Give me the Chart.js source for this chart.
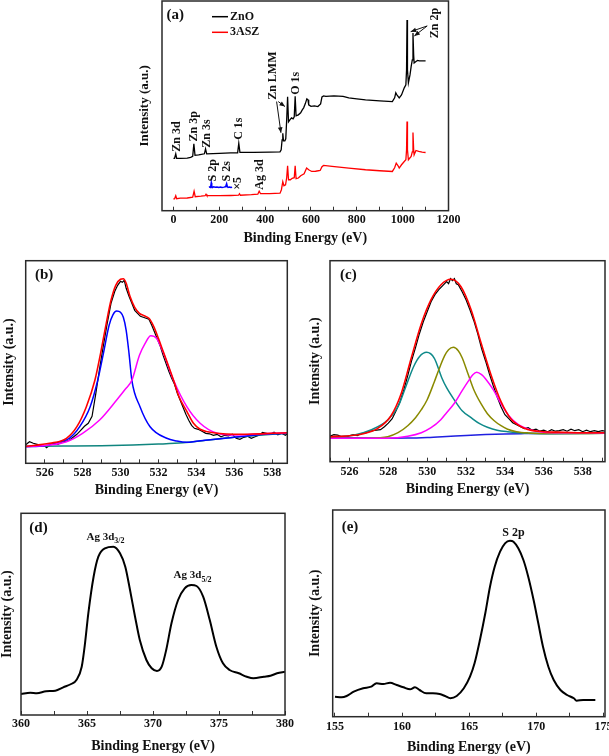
<!DOCTYPE html>
<html><head><meta charset="utf-8">
<script src="https://cdn.jsdelivr.net/npm/chart.js@4.4.1/dist/chart.umd.min.js"></script>
<style>
html,body{margin:0;padding:0;background:#fff;width:609px;height:756px;overflow:hidden;position:relative}
canvas{position:absolute}
</style></head><body>
<canvas id="ca" width="345" height="250" style="left:128px;top:0px"></canvas>
<canvas id="cb" width="300" height="250" style="left:0px;top:250px"></canvas>
<canvas id="cc" width="320" height="250" style="left:300px;top:250px"></canvas>
<canvas id="cd" width="305" height="256" style="left:0px;top:500px"></canvas>
<canvas id="ce" width="325" height="256" style="left:300px;top:500px"></canvas>
<script>
// ---------- Panel (a): survey spectra ----------
const aZnO_eV = [0,5,10,14,30,60,75,84,89,94,110,135,140,145,200,250,280,285,290,350,420,465,470,474,477,480,486,490,494,498,502,508,515,522,527,531,535,545,555,562,568,575,582,587,590,600,615,630,642,648,655,665,700,740,765,800,838,900,955,965,970,975,985,995,1007,1014,1017,1019,1021,1025,1032,1037,1042,1045,1048,1050,1058,1065,1073,1085,1100];
const aZnO_int = [52.5,52.5,57,52.5,52.5,52.7,53.5,54.5,67,55.5,56,57,62,57,57.5,58,58,67.5,58.5,58.5,58.7,59,61,71,77.5,70,70,72,91,114,89,91,93,92,94,114.5,95,96,98,101,103,107,112,111,106,104.5,105,104.3,107,114,115,114.5,115,114.5,113,112,111,110,109.3,113,118,116,113,116,123,126,141,191,141,128,136,144.3,151,178,156,148,149.5,150.5,150,150,150];
const aASZ_eV = [0,5,10,14,30,60,84,90,95,120,138,142,146,200,250,284,288,292,340,368,374,380,420,465,471,477,482,489,494,498,502,510,518,527,531,535,545,555,570,581,590,603,620,640,648,655,692,765,838,900,955,965,972,980,985,995,1007,1014,1017,1019,1021,1025,1037,1042,1045,1048,1050,1058,1070,1085,1100];
const aASZ_int = [11.5,12,15,12,12.5,12.7,13.5,19.5,14,14.5,15,16.5,15,15,15.2,15.5,17,15.5,16,16.5,19.5,17,17,17.5,21,29,25,26,33,45,31,31,32.5,33,45,32,32.7,35,37,42.7,41,39.3,39.5,40.3,44,45.3,44.3,42.7,41,40,39.3,43,47.7,45,42.7,46,49.3,51,61,89.3,61,51,54.3,59,78.3,61,56,60.3,59.5,58.7,58.3];
const aS_eV = [155,158,161,163,165,167,170,175,182,190,198,205,212,220,226,229,232,235,238,245,250,256];
const aS_int = [23.3,23.8,23.2,25,28,24.5,23.3,23.9,23.4,23.7,23.2,23.8,23.3,23.6,24,25,27,24.2,23.3,23.8,23.3,23.5];
const aTicks = [0,100,200,300,400,500,600,700,800,900,1000,1100,1200];
const aLabels = [0,200,400,600,800,1000,1200];
const aPeakNames = ['Zn 3d','Zn 3p','Zn 3s','C 1s','Zn LMM','O 1s','Zn 2p','S 2p','S 2s','\u00d75','Ag 3d'];
const aPeakX = [14,89.4,145,287,433,533,1141,174,232,283,377];
const aPeakY = [59,69.3,63,71,111,116,172.7,29.3,29.3,21,21];
const aArrows = [[450,109.3,469,78],[457,109.3,486.5,104.3],[1107,185,1035,179.3],[1107,185,1051,175]];
const aSeriesNames = ['ZnO','3ASZ'];

// ---------- Panel (b): O 1s of ZnO ----------
const bRaw_eV = [525.0,525.2,525.4,525.6,525.8,526.0,526.1,526.3,526.5,526.7,526.9,527.1,527.3,527.5,527.7,527.9,528.1,528.3,528.5,528.7,528.9,529.1,529.3,529.5,529.7,529.85,530.0,530.1,530.2,530.3,530.45,530.6,530.75,530.9,531.05,531.2,531.35,531.5,531.65,531.8,531.95,532.1,532.25,532.4,532.55,532.7,532.85,533.0,533.15,533.3,533.45,533.6,533.75,533.9,534.1,534.3,534.5,534.7,534.9,535.1,535.3,535.5,535.7,535.9,536.1,536.3,536.5,536.7,536.9,537.1,537.3,537.5,537.7,537.9,538.1,538.3,538.5,538.7,538.8];
const bRaw_int = [18.5,21.5,20,19,18,17.5,15.5,18.5,19.5,19,21,22,23,26,29,33,37,40,47,70,95,118,140,160,172,178,182,181,183,175,167,160,153,150,147,146,145,144,138,131,124,117,108,100,92,85,79,70,63,56,49,43,38,35,34,32,30,29.5,28,29,26.5,28,27.5,29,25,24,26,27,25,26.5,28,31,30,29,31,28.5,30,28,29.5];
const bFit_eV = [525,526.26,527.15,527.7,528.2,528.65,528.95,529.25,529.5,529.75,530.0,530.15,530.3,530.5,530.75,531,531.25,531.5,531.75,532,532.25,532.5,532.8,533.1,533.5,533.85,534.2,534.6,535.1,536,537,538,538.8];
const bFit_int = [17,20,25,36.6,56.6,83,110,140,163,178,184,184.5,180,167,156,150,147.5,145,137,125,112,99,83,66,52,40,34,31.5,30,29,29.3,30,30.5];
const bPk1_eV = [525,526,526.8,527.3,527.85,528.4,528.8,529.1,529.4,529.6,529.8,530.0,530.15,530.3,530.45,530.6,531.03,531.56,532.44,532.97,533.5,534,535,536,537,538,538.8];
const bPk1_int = [16.5,17.5,21.6,25,36.6,56.6,83,110,138,148.5,152.3,151,146,133,110,83,56.6,36.6,25,22.3,21,22,24,26,28,29.5,30];
const bPk2_eV = [525,526.26,527.15,528.0,528.9,529.8,530.25,530.6,531,531.3,531.6,531.9,532.25,532.8,533.5,534.2,535.1,536,537,538,538.8];
const bPk2_int = [16.6,18.3,21.6,30,43.3,63.3,74,83,108,120,127.6,125,111,83,56.6,40,30,28.3,29,30,30.5];
const bBg_eV = [525,527,529,530.66,532,533.3,534.5,536,537.5,538.8];
const bBg_int = [17,17.2,17.5,18.3,19.2,20.5,23,26,28.3,30];
const bTicks = [525,526,527,528,529,530,531,532,533,534,535,536,537,538];
const bLabels = [526,528,530,532,534,536,538];

// ---------- Panel (c): O 1s of 3ASZ ----------
const cRaw_eV = [525.0,525.2,525.4,525.6,525.8,526.0,526.2,526.4,526.6,526.8,527.0,527.2,527.4,527.6,527.8,528.0,528.2,528.4,528.6,528.8,529.0,529.2,529.4,529.6,529.8,530.0,530.2,530.4,530.6,530.8,531.0,531.1,531.2,531.3,531.4,531.5,531.6,531.8,532.0,532.2,532.4,532.6,532.8,533.0,533.2,533.4,533.6,533.8,534.0,534.2,534.4,534.6,534.8,535.0,535.2,535.4,535.6,535.8,536.0,536.2,536.4,536.6,536.8,537.0,537.2,537.4,537.6,537.8,538.0,538.2,538.4,538.6,538.8,539.0,539.15];
const cRaw_int = [25.5,27,26.5,25,24.5,26,27,26,28,28.5,30,31,31.5,32,35,38.5,43,51,60,72,86,101,114,128,140,150,160,167,172,176,180,178,183,181,183,178,177,170,162,152,141,128,113,101,88,76,65,55,47,43,39,37,35,33,34,31.5,32.5,30.5,31.5,30,32,30.5,31,32,30.5,32.5,31,32,30,31.5,30,31,30,31,30.5];
const cFit_eV = [525,526,526.6,527.46,528.14,528.66,529.17,529.7,530.2,530.7,531.23,531.74,532.26,532.77,533.3,533.8,534.3,535.0,536,537,538,539.15];
const cFit_int = [25,26,27.5,33.4,46,68,103,138,162,176.7,182.4,175,152,119,86,60,43,33.5,30,29.5,29,29];
const cPk1_eV = [525,526.26,527.1,527.97,528.5,528.9,529.3,529.6,529.97,530.37,530.75,531.0,531.4,531.8,532.26,532.7,533.1,533.6,534.14,535.2,536.5,539.15];
const cPk1_int = [24.5,26.7,31.7,41.7,55,75,95,105,109.4,103.4,84,74,61.7,51,44,38,34.5,31.5,30,28.4,28,28.4];
const cPk2_eV = [525,527,527.97,528.5,529.0,529.4,529.7,530.0,530.37,530.6,530.9,531.1,531.35,531.6,531.8,532.1,532.4,532.77,533.1,533.45,533.8,534.14,534.6,535.2,536.5,539.15];
const cPk2_int = [23.4,23.5,25,29,36,44,52,62,80,92,106,112,114.4,111,104,88,72,58,48,41,36,32.5,30,28.8,28.2,28.4];
const cPk3_eV = [525,528,529.0,529.7,530.2,530.7,531.0,531.4,531.8,532.1,532.35,532.55,532.8,533.0,533.4,533.8,534.2,534.7,535.3,536,537,539.15];
const cPk3_int = [23.4,23.5,25.5,29,34,42,49,58.4,71,80,87,89.4,87,83,72,58,46,37,32,29.5,29,28.8];
const cBg_eV = [525,526,527,528,529,530,531,532,533,534,535,536,539.15];
const cBg_int = [24.4,24,23.7,23.5,23.6,24.2,25.2,26.3,27.2,27.8,28.1,28.3,28.5];
const cTicks = [525,526,527,528,529,530,531,532,533,534,535,536,537,538,539];
const cLabels = [526,528,530,532,534,536,538];

// ---------- Panel (d): Ag 3d ----------
const dEv = [360,360.7,361.2,361.9,362.6,363.2,363.8,364.2,364.6,364.85,365.1,365.5,365.86,366.36,367.0,367.5,367.9,368.26,368.64,369.0,369.5,369.9,370.3,370.66,371.0,371.4,371.9,372.4,372.9,373.3,373.8,374.3,374.8,375.3,375.8,376.5,377.1,377.6,378.4,378.9,379.4,380];
const dInt = [21,22.3,21.7,23.7,24.3,27.7,31,35,48.3,71.7,101.7,138.3,158.3,166.7,168.3,161.7,148.3,125,98.3,75,55,46.7,44,48.3,65,91.7,115,126.7,130,129,118.3,95,68.3,51.7,45,41.7,38.3,36.7,38.3,39.3,41.7,43.3];
const dTicks = [360,362.5,365,367.5,370,372.5,375,377.5,380];
const dLabels = [360,365,370,375,380];

// ---------- Panel (e): S 2p ----------
const eEv = [155,155.5,155.87,156.4,157.1,157.7,158.1,158.6,159.1,159.6,160.1,160.6,160.96,161.3,161.8,162.3,162.8,163.2,163.6,164.07,164.6,165.06,165.4,165.8,166.2,166.55,166.9,167.3,167.67,168.04,168.3,168.66,169.04,169.4,169.8,170.15,170.5,170.9,171.3,171.8,172.3,172.8,173.0,173.5,174.4];
const eInt = [20,19.4,20.7,25,28.4,30,33.4,32.7,34,31.7,29.4,27.4,29.4,26.7,23.4,23.4,22.7,20.7,18.4,20.7,28.4,40,53.4,76.7,103.4,130,150,165,173.4,176,175,168.4,156.7,140,116.7,93.4,70,50,36.7,26.7,21.7,18.4,16,16.7,16.7];
const eTicks = [155,157.5,160,162.5,165,167.5,170,172.5,175];
const eLabels = [155,160,165,170,175];

// ---------- helpers ----------
const FONT = "'Liberation Serif','Times New Roman',Times,serif";
function pts(xs, ys){ return xs.map((v,i)=>({x:v, y:ys[i]})); }
function ln(label, xs, ys, color, width, smooth){
  return {label, data:pts(xs,ys), borderColor:color, backgroundColor:color, borderWidth:width,
    pointRadius:0, pointHoverRadius:0, fill:false, tension: smooth?0.4:0,
    cubicInterpolationMode: smooth?'monotone':'default'};
}
function arrow(ctx, x1,y1,x2,y2){
  ctx.beginPath(); ctx.moveTo(x1,y1); ctx.lineTo(x2,y2); ctx.stroke();
  const ang = Math.atan2(y2-y1, x2-x1), L=6, w=0.4;
  ctx.beginPath(); ctx.moveTo(x2,y2);
  ctx.lineTo(x2 - L*Math.cos(ang-w), y2 - L*Math.sin(ang-w));
  ctx.lineTo(x2 - L*Math.cos(ang+w), y2 - L*Math.sin(ang+w));
  ctx.closePath(); ctx.fill();
}
const extras = {
  id:'extras',
  afterDatasetsDraw(chart, args, o){
    const {ctx, chartArea:a} = chart; const X = chart.scales.x, Y = chart.scales.y;
    ctx.save();
    ctx.strokeStyle = '#2a2a2a'; ctx.lineWidth = 1.5;
    ctx.strokeRect(a.left, a.top, a.right-a.left, a.bottom-a.top);
    ctx.fillStyle = '#111'; ctx.strokeStyle = '#111';
    ctx.font = 'bold 15px ' + FONT; ctx.textAlign = 'left'; ctx.textBaseline = 'middle';
    ctx.fillText(o.tag, a.left + o.tagDx, a.top + o.tagDy);
    if (o.vnames){
      ctx.font = 'bold 12px ' + FONT;
      o.vnames.forEach((t,i)=>{
        ctx.save();
        ctx.translate(X.getPixelForValue(o.vx[i]), Y.getPixelForValue(o.vy[i]));
        ctx.rotate(-Math.PI/2); ctx.fillText(t, 0, 0); ctx.restore();
      });
    }
    if (o.arrows){
      ctx.lineWidth = 1;
      o.arrows.forEach(r => arrow(ctx, X.getPixelForValue(r[0]), Y.getPixelForValue(r[1]), X.getPixelForValue(r[2]), Y.getPixelForValue(r[3])));
    }
    if (o.legend){
      ctx.font = 'bold 12px ' + FONT;
      o.legend.forEach((it,i)=>{
        const yy = a.top + o.legendDy[i];
        ctx.strokeStyle = it.color; ctx.lineWidth = 1.5;
        ctx.beginPath(); ctx.moveTo(a.left + 50, yy); ctx.lineTo(a.left + 66, yy); ctx.stroke();
        ctx.fillStyle = '#111'; ctx.fillText(it.label, a.left + 68, yy);
      });
    }
    if (o.subs){
      o.subs.forEach(s=>{
        const mf = 'bold ' + s.size + 'px ' + FONT, sf = 'bold ' + Math.round(s.size*0.72) + 'px ' + FONT;
        ctx.font = mf; const w1 = ctx.measureText(s.main).width;
        ctx.font = sf; const w2 = s.sub ? ctx.measureText(s.sub).width : 0;
        const cx = X.getPixelForValue(s.x), cy = Y.getPixelForValue(s.y);
        const x0 = cx - (w1+w2)/2;
        ctx.font = mf; ctx.fillStyle = '#111'; ctx.fillText(s.main, x0, cy);
        if (s.sub){ ctx.font = sf; ctx.fillText(s.sub, x0 + w1, cy + s.size*0.38); }
      });
    }
    ctx.restore();
  }
};
function panel(id, P){
  return new Chart(document.getElementById(id), {
    type:'line',
    data:{datasets:P.datasets},
    options:{
      responsive:false, animation:false, devicePixelRatio:1, events:[],
      layout:{padding:{left:0, top:P.padTop, right:P.padRight, bottom:0}},
      plugins:{legend:{display:false}, tooltip:{enabled:false}, extras:P.extras},
      scales:{
        x:{type:'linear', position:'bottom', min:P.xmin, max:P.xmax,
          afterBuildTicks(s){ s.ticks = P.ticks.map(v=>({value:v})); },
          afterFit(s){ s.height = P.xh; },
          ticks:{autoSkip:false, maxRotation:0, minRotation:0, padding:P.tickPad, color:'#111',
            font:{family:FONT, size:12, weight:'bold'},
            callback:(v)=> P.labels.includes(v) ? String(v) : ''},
          grid:{display:true, drawOnChartArea:false, drawTicks:true, tickLength:-4, color:'#333', lineWidth:1},
          border:{display:false},
          title:{display:true, text:'Binding Energy (eV)', color:'#111',
            font:{family:FONT, size:14, weight:'bold'}, padding:{top:0, bottom:P.titlePad}}
        },
        y:{type:'linear', position:'left', min:0, max:P.ymax,
          afterFit(s){ s.width = P.yw; },
          ticks:{display:false}, grid:{display:false}, border:{display:false},
          title:{display:true, text:'Intensity (a.u.)', color:'#111',
            font:{family:FONT, size:P.ySize||14, weight:'bold', lineHeight:1}, padding:{top:P.yTitlePad, bottom:0}}
        }
      }
    },
    plugins:[extras]
  });
}

// (a)
panel('ca', {
  datasets:[
    ln(aSeriesNames[0], aZnO_eV, aZnO_int, '#000000', 1.3, false),
    ln(aSeriesNames[1], aASZ_eV, aASZ_int, '#ff0000', 1.3, false),
    ln('S x5', aS_eV, aS_int, '#0000ff', 1.5, false)
  ],
  xmin:-50, xmax:1200, ymax:210, ticks:aTicks, labels:aLabels,
  padTop:1, padRight:24.5, yw:34, xh:39.3, tickPad:6.1, titlePad:3.3, yTitlePad:10.5, ySize:13,
  extras:{tag:'(a)', tagDx:4.5, tagDy:14, vnames:aPeakNames, vx:aPeakX, vy:aPeakY, arrows:aArrows,
    legend:[{label:aSeriesNames[0], color:'#000000'},{label:aSeriesNames[1], color:'#ff0000'}], legendDy:[15.7,31.3]}
});
// (b)
panel('cb', {
  datasets:[
    ln('Fit', bFit_eV, bFit_int, '#ff0000', 1.6, true),
    ln('Peak 2', bPk2_eV, bPk2_int, '#ff00ff', 1.5, true),
    ln('Peak 1', bPk1_eV, bPk1_int, '#0000ff', 1.5, true),
    ln('Background', bBg_eV, bBg_int, '#10857f', 1.5, true),
    ln('Raw', bRaw_eV, bRaw_int, '#000000', 1.2, false)
  ],
  xmin:525, xmax:538.8, ymax:202.6, ticks:bTicks, labels:bLabels,
  padTop:10.7, padRight:12.7, yw:25.7, xh:36.7, tickPad:6.2, titlePad:1.6, yTitlePad:2.3,
  extras:{tag:'(b)', tagDx:9.3, tagDy:14.3}
});
// (c)
panel('cc', {
  datasets:[
    ln('Fit', cFit_eV, cFit_int, '#ff0000', 1.6, true),
    ln('Peak 3', cPk3_eV, cPk3_int, '#ff00ff', 1.5, true),
    ln('Peak 2', cPk2_eV, cPk2_int, '#8a8a00', 1.5, true),
    ln('Peak 1', cPk1_eV, cPk1_int, '#0f8a8a', 1.5, true),
    ln('Background', cBg_eV, cBg_int, '#1f1fe0', 1.5, true),
    ln('Raw', cRaw_eV, cRaw_int, '#000000', 1.2, false)
  ],
  xmin:525, xmax:539.15, ymax:201, ticks:cTicks, labels:cLabels,
  padTop:10.7, padRight:15, yw:30, xh:38.3, tickPad:6.8, titlePad:2.3, yTitlePad:8,
  extras:{tag:'(c)', tagDx:10, tagDy:14.3}
});
// (d)
panel('cd', {
  datasets:[ ln('Ag 3d', dEv, dInt, '#000000', 2, true) ],
  xmin:360, xmax:380, ymax:201.7, ticks:dTicks, labels:dLabels,
  padTop:13.3, padRight:20, yw:21, xh:41, tickPad:6.1, titlePad:1.6, yTitlePad:0,
  extras:{tag:'(d)', tagDx:8.3, tagDy:15,
    subs:[{main:'Ag 3d', sub:'3/2', x:366.4, y:178.3, size:11},{main:'Ag 3d', sub:'5/2', x:373, y:139.5, size:11}]}
});
// (e)
panel('ce', {
  datasets:[ ln('S 2p', eEv, eInt, '#000000', 2, true) ],
  xmin:154.83, xmax:175.12, ymax:206.7, ticks:eTicks, labels:eLabels,
  padTop:10, padRight:20, yw:32.7, xh:39.3, tickPad:7.4, titlePad:0.3, yTitlePad:8,
  extras:{tag:'(e)', tagDx:9, tagDy:16.7, subs:[{main:'S 2p', sub:'', x:168.3, y:183.7, size:12}]}
});
</script>
</body></html>
